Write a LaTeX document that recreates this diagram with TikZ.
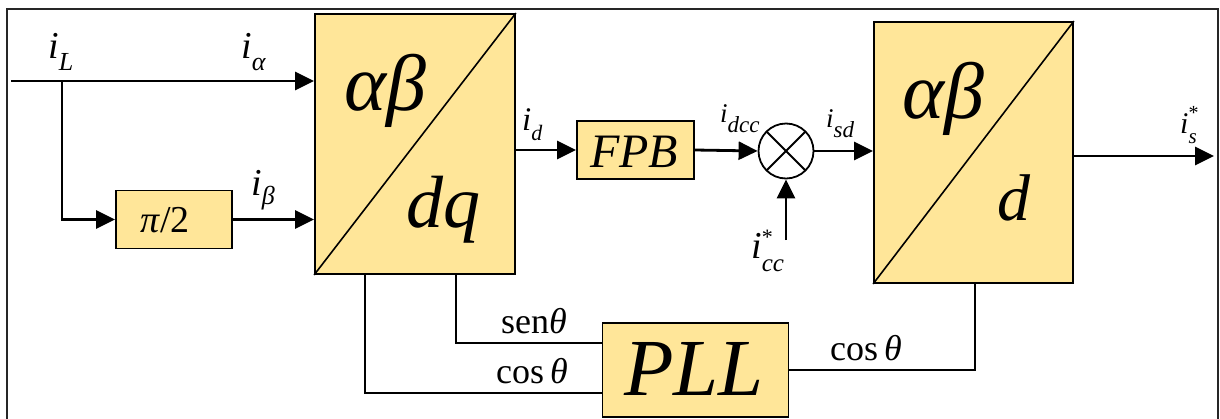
\documentclass[tikz,border=0pt]{standalone}
\usepackage{fontspec}
\setmainfont{Liberation Serif}
\usetikzlibrary{arrows.meta}
\definecolor{boxfill}{HTML}{FFE699}
\newcommand\fs[1]{\fontsize{#1}{#1}\selectfont}
\begin{document}
\begin{tikzpicture}[x=1pt,y=-1pt,
  blk/.style={draw=black, line width=1.8pt, fill=boxfill, inner sep=0pt, rectangle},
  sig/.style={line width=2.8pt, -{Triangle[length=19pt,width=18pt]}},
  wire/.style={line width=1.8pt},
  lab/.style={inner sep=0pt, anchor=base west}]
\useasboundingbox (0,0) rectangle (1220,418);
% frame
\draw[line width=1.8pt, black!85] (7,425) -- (7,9) -- (1218,9) -- (1218,425);
% blocks
\node[blk, minimum width=116pt, minimum height=58pt] (pi2) at (174,219.5) {};
\node[blk, minimum width=200pt, minimum height=260pt] (abdq) at (415,144) {};
\node[blk, minimum width=117pt, minimum height=58pt] (fpb) at (635.5,150) {};
\node[draw=black, line width=1.8pt, fill=white, circle, minimum size=55pt, inner sep=0pt,
  path picture={\draw[line width=1.8pt] (path picture bounding box.north west) -- (path picture bounding box.south east)
  (path picture bounding box.south west) -- (path picture bounding box.north east);}] (sum) at (786,151) {};
\node[blk, minimum width=199pt, minimum height=261pt] (abd) at (973.5,152.5) {};
\node[blk, minimum width=186pt, minimum height=94pt] (pll) at (695.5,370) {};
% diagonals
\draw[line width=1.6pt] (abdq.south west) -- (abdq.north east);
\draw[line width=1.6pt] (abd.south west) -- (abd.north east);
% block texts
\node[lab] (tab1) at (344,110) {\fs{80}\textit{αβ}};
\node[lab] (tdq) at (406,227) {\fs{74}\textit{dq}};
\node[lab] (tab2) at (902,118) {\fs{80}\textit{αβ}};
\node[lab] (td) at (997,220) {\fs{66}\textit{d}};
\node[lab] (tpll) at (624,395) {\fs{81}\textit{PLL}};
\node[lab] (tfpb) at (590,167) {\fs{48}\textit{FPB}};
\node[lab] (tpi) at (140,232) {\fs{38}\textit{π}/2};
% coordinates
\coordinate (inL) at (11,81);
\coordinate (br) at (62,81);
\coordinate (icc) at (786,240);
\coordinate (out) at (1214,156);
\coordinate (c1) at (365,393);
\coordinate (c2) at (456,343);
\coordinate (c3) at (975,370);
% signal connectors
\draw[sig] (inL) -- (inL -| abdq.west);
\draw[sig] (br) |- (pi2.west);
\draw[sig] (pi2.east) -- (pi2.east -| abdq.west);
\draw[sig] (fpb.west -| abdq.east) -- (fpb.west);
\draw[sig] (fpb.east) -- (sum.west);
\draw[sig] (sum.east) -- (sum.east -| abd.west);
\draw[sig] (icc) -- (sum.south);
\draw[sig] (out -| abd.east) -- (out);
% PLL wires
\draw[wire] (c1 |- abdq.south) -- (c1) -- (c1 -| pll.west);
\draw[wire] (c2 |- abdq.south) -- (c2) -- (c2 -| pll.west);
\draw[wire] (c3 -| pll.east) -- (c3) -- (c3 |- abd.south);
% labels
\node[lab] (liL) at (48,58) {\fs{38}\textit{i}\raisebox{-12pt}{\fs{26}\textit{L}}};
\node[lab] (lia) at (241,58) {\fs{38}\textit{i}\raisebox{-12pt}{\fs{26}\textit{α}}};
\node[lab] (lib) at (251,195) {\fs{38}\textit{i}\raisebox{-9pt}{\fs{26}\textit{β}}};
\node[lab] (lid) at (522,130) {\fs{33}\textit{i}\raisebox{-10pt}{\fs{22}\textit{d}}};
\node[lab] (lidcc) at (720,122) {\fs{27}\textit{i}\raisebox{-10pt}{\fs{23}\textit{dcc}}};
\node[lab] (lisd) at (826,127) {\fs{27}\textit{i}\raisebox{-10pt}{\fs{23}\textit{sd}}};
\node[lab] (licc) at (751,258) {\fs{38}\textit{i}\rlap{\raisebox{14pt}{\fs{22}*}}\raisebox{-13pt}{\fs{25}\textit{cc}}};
\node[lab] (lis) at (1180,133) {\fs{30}\textit{i}\rlap{\raisebox{14pt}{\fs{20}*}}\raisebox{-10pt}{\fs{21}\textit{s}}};
\node[lab] (lsen) at (501,333) {\fs{36}sen\textit{θ}};
\node[lab] (lcos1) at (496,383) {\fs{36}cos\,\textit{θ}};
\node[lab] (lcos2) at (830,360) {\fs{36}cos\,\textit{θ}};
\end{tikzpicture}
\end{document}
